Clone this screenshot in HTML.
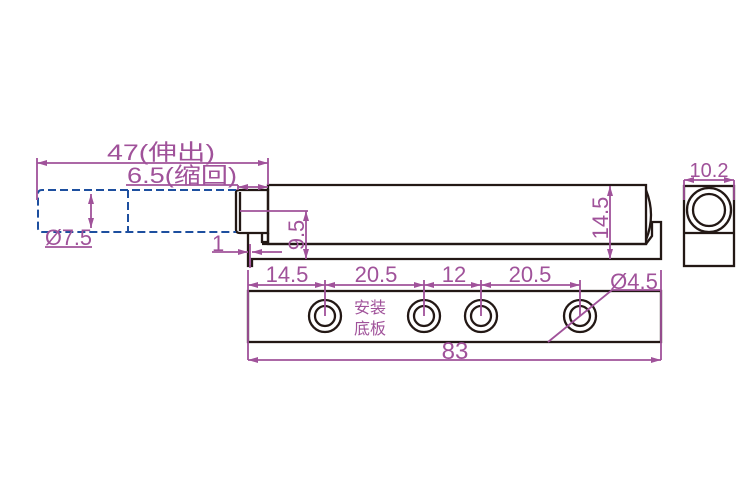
<!DOCTYPE html>
<html><head><meta charset="utf-8"><style>body{margin:0;background:#fff}svg{display:block}</style></head><body>
<svg width="750" height="500" viewBox="0 0 750 500" xmlns="http://www.w3.org/2000/svg" font-family="Liberation Sans, Noto Sans CJK SC, sans-serif">
<defs>
<marker id="a" viewBox="0 0 10 6" refX="10" refY="3" markerWidth="10" markerHeight="6" orient="auto-start-reverse" markerUnits="userSpaceOnUse"><path d="M0,0L10,3L0,6z" fill="#a0529a"/></marker>
</defs>
<g fill="none" stroke="#231815" stroke-width="2.3">
<path d="M268,185H646V244H268Z"/>
<path d="M646,190Q656,215 646,240"/>
<path d="M236,192Q236,190 240,190H268V233H240Q236,233 236,230Z"/>
<path d="M240,192V231"/>
<path d="M268,233V242H262V234"/>
<path d="M262,244H646L652,236V222H661V259H252V266H248V233"/>
<rect x="248" y="291" width="413" height="51"/>
<rect x="684" y="186" width="50" height="80"/>
<path d="M684,233H734"/>
<circle cx="709" cy="210" r="22"/><circle cx="709" cy="210" r="16"/>
<circle cx="325" cy="316" r="16"/><circle cx="325" cy="316" r="10"/>
<circle cx="424" cy="316" r="16"/><circle cx="424" cy="316" r="10"/>
<circle cx="481" cy="316" r="16"/><circle cx="481" cy="316" r="10"/>
<circle cx="580" cy="316" r="16"/><circle cx="580" cy="316" r="10"/>
</g>
<g fill="none" stroke="#1d4f9f" stroke-width="2" stroke-dasharray="8,4">
<path d="M236,190H42Q38,190 38,194V228Q38,232 42,232H236"/>
<path d="M128,190V232"/>
</g>
<g stroke="#a0529a" stroke-width="1.8" fill="none">
<path d="M37,158V200M268,158V185"/>
<path d="M37,163H268" marker-start="url(#a)" marker-end="url(#a)"/>
<path d="M126,185H238"/>
<path d="M238,185V190"/>
<path d="M238,187H268" marker-start="url(#a)" marker-end="url(#a)"/>
<path d="M91,194V228" marker-start="url(#a)" marker-end="url(#a)"/>
<path d="M45,247H92"/>
<path d="M240,211H308"/>
<path d="M306,211V259" marker-start="url(#a)" marker-end="url(#a)"/>
<path d="M610,186V259" marker-start="url(#a)" marker-end="url(#a)"/>
<path d="M212,252H248" marker-end="url(#a)"/><path d="M282,252H252" marker-end="url(#a)"/>
<path d="M250,244V268"/>
<path d="M684,180V200M734,180V200"/>
<path d="M684,180H734" marker-start="url(#a)" marker-end="url(#a)"/>
<path d="M248,270V360M661,270V360M325,280V316M424,280V316M481,280V316M580,280V316"/>
<path d="M248,285H325" marker-start="url(#a)" marker-end="url(#a)"/>
<path d="M325,285H424" marker-start="url(#a)" marker-end="url(#a)"/>
<path d="M424,285H481" marker-start="url(#a)" marker-end="url(#a)"/>
<path d="M481,285H580" marker-start="url(#a)" marker-end="url(#a)"/>
<path d="M248,360H661" marker-start="url(#a)" marker-end="url(#a)"/>
<path d="M548,342L612,290H661"/>
</g>
<g fill="#a0529a" font-size="22">
<text x="107" y="160" textLength="108" lengthAdjust="spacingAndGlyphs">47(伸出)</text>
<text x="127" y="183" textLength="110" lengthAdjust="spacingAndGlyphs">6.5(缩回)</text>
<text x="45" y="245" textLength="47" lengthAdjust="spacingAndGlyphs">Ø7.5</text>
<text x="212" y="251">1</text>
<text x="304" y="235" transform="rotate(-90 304 235)" text-anchor="middle">9.5</text>
<text x="608" y="218" transform="rotate(-90 608 218)" text-anchor="middle">14.5</text>
<text x="709" y="177" text-anchor="middle" font-size="20">10.2</text>
<text x="287" y="282" text-anchor="middle">14.5</text>
<text x="376" y="282" text-anchor="middle">20.5</text>
<text x="454" y="282" text-anchor="middle">12</text>
<text x="530" y="282" text-anchor="middle">20.5</text>
<text x="634" y="289" text-anchor="middle">Ø4.5</text>
<text x="455" y="359" text-anchor="middle" font-size="24">83</text>
<text x="370" y="313" text-anchor="middle" font-size="16">安装</text>
<text x="370" y="334" text-anchor="middle" font-size="16">底板</text>
</g>
</svg>
</body></html>
